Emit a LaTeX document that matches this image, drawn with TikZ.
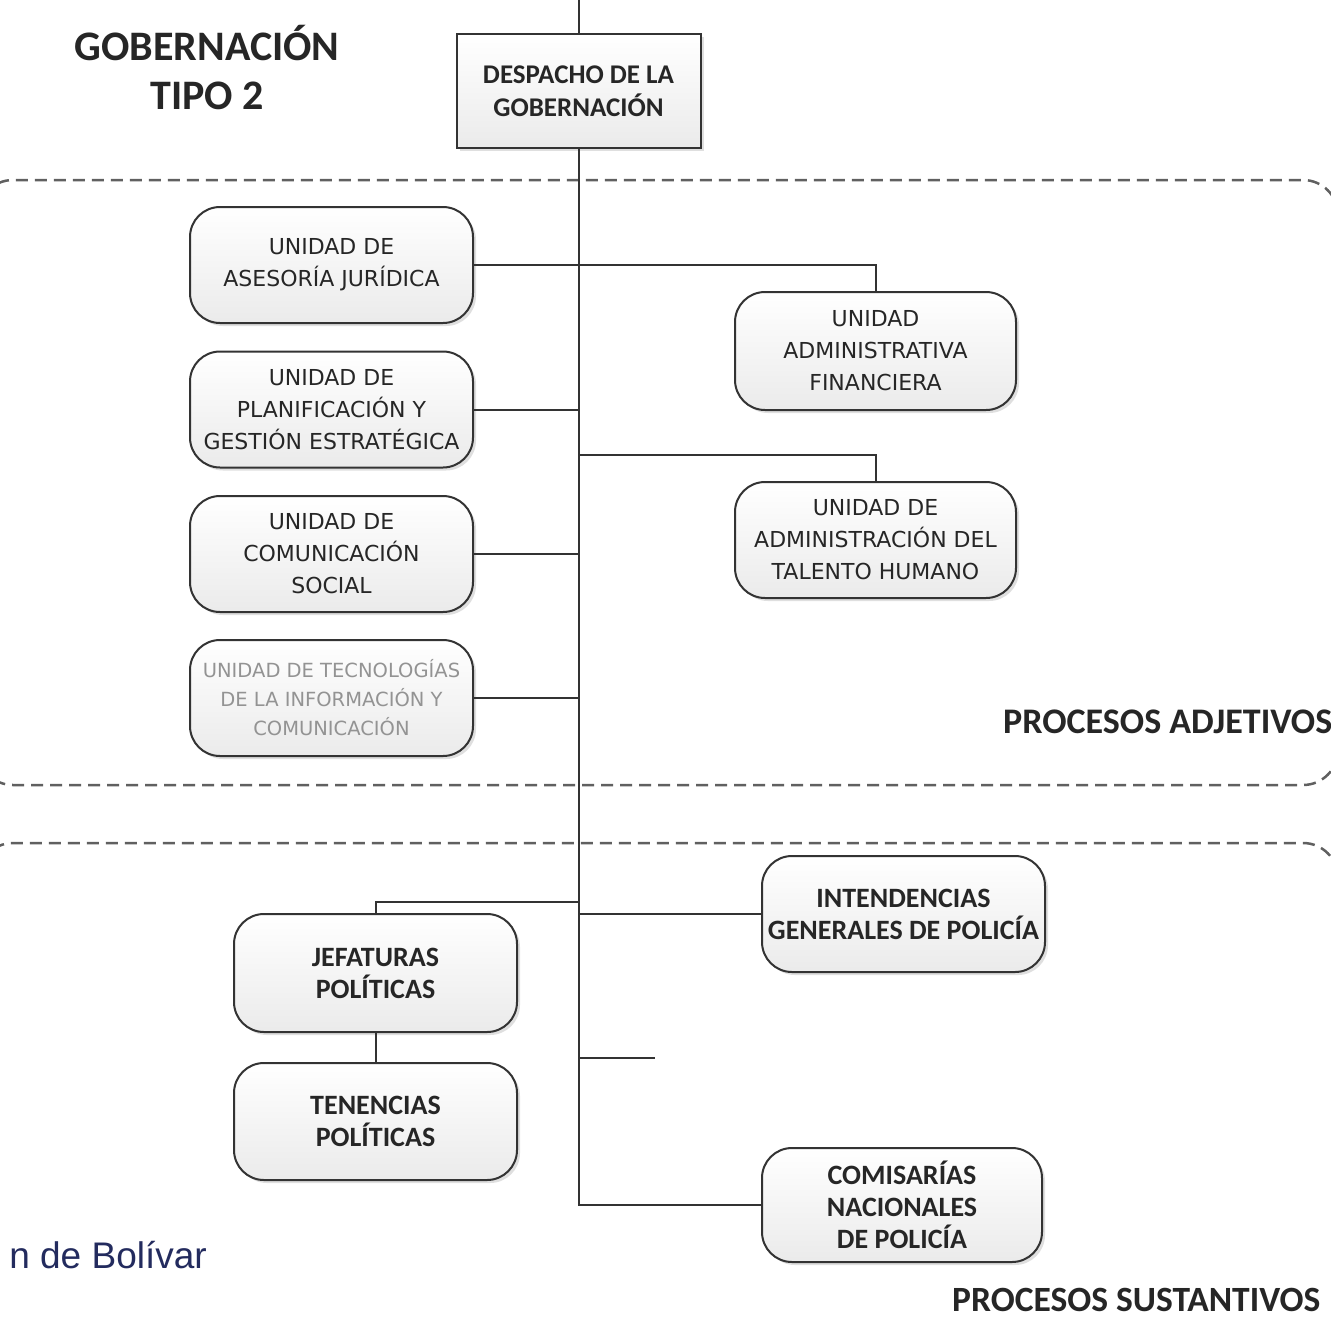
\documentclass[tikz,border=0pt]{standalone}
\usepackage{fontspec}
\setmainfont{Carlito}
\newfontfamily\dv{DejaVu Sans}
\newfontfamily\arialf{Liberation Sans}
\usetikzlibrary{shadows}
\definecolor{ink}{HTML}{262626}
\definecolor{lineclr}{HTML}{333333}
\definecolor{navy}{HTML}{232B5E}
\tikzset{
  boxbase/.style={draw=lineclr, line width=2pt, shading=axis, top color=white, bottom color=gray!16,
    drop shadow={shadow xshift=3pt, shadow yshift=-3pt, opacity=0.25, fill=gray},
    align=center, inner sep=0pt, text=ink},
  ubox/.style={boxbase, rounded corners=30pt, minimum width=283pt, minimum height=116pt,
    font=\dv\fontsize{22}{32}\selectfont},
  bbox/.style={boxbase, rounded corners=30pt, minimum width=283pt, minimum height=116pt,
    font=\bfseries\fontsize{28}{32}\selectfont},
  conn/.style={draw=lineclr, line width=2pt},
  dashregion/.style={draw=gray!75!black, line width=2.5pt, dash pattern=on 12pt off 7pt, rounded corners=35pt},
}
\begin{document}
\begin{tikzpicture}[x=1pt,y=-1pt]
\useasboundingbox (0,0) rectangle (1331,1318);
\fill[white] (0,0) rectangle (1331,1318);
\begin{scope}
\clip (0,0) rectangle (1331,1318);
\draw[dashregion] (-22,180) rectangle (1338,785);
\draw[dashregion] (-22,843) rectangle (1338,1360);
\end{scope}

% title
\node[font=\bfseries\fontsize{42}{49}\selectfont, text=ink, align=center] (title) at (207,68) {GOBERNACIÓN\\TIPO 2};

% top box
\node[boxbase, rounded corners=0pt, minimum width=244pt, minimum height=114pt,
  font=\bfseries\fontsize{27}{33}\selectfont] (desp) at (578.5,91) {DESPACHO DE LA\\GOBERNACIÓN};
\coordinate (top) at (578.5,0);

% left units
\node[ubox] (ases) at (331.5,265) {UNIDAD DE\\ASESORÍA JURÍDICA};
\node[ubox] (plan) at (331.5,409.5) {UNIDAD DE\\PLANIFICACIÓN Y\\GESTIÓN ESTRATÉGICA};
\node[ubox] (comu) at (331.5,554) {UNIDAD DE\\COMUNICACIÓN\\SOCIAL};
\node[ubox, text=gray!85, font=\dv\fontsize{19.5}{29}\selectfont] (tec) at (331.5,698) {UNIDAD DE TECNOLOGÍAS\\DE LA INFORMACIÓN Y\\COMUNICACIÓN};

% right units
\node[ubox, minimum width=281pt, minimum height=118pt] (fin) at (875.5,351) {UNIDAD\\ADMINISTRATIVA\\FINANCIERA};
\node[ubox, minimum width=281pt] (tal) at (875.5,540) {UNIDAD DE\\ADMINISTRACIÓN DEL\\TALENTO HUMANO};

% sustantive units
\node[bbox, minimum height=118pt] (jef) at (375.5,973) {JEFATURAS\\POLÍTICAS};
\node[bbox, minimum height=117pt] (ten) at (375.5,1121.5) {TENENCIAS\\POLÍTICAS};
\node[bbox] (int) at (903.5,914) {INTENDENCIAS\\GENERALES DE POLICÍA};
\node[bbox, minimum width=280pt, minimum height=114pt] (comi) at (902,1205) {COMISARÍAS\\NACIONALES\\DE POLICÍA};

% labels
\node[font=\bfseries\fontsize{36}{38}\selectfont, text=ink, anchor=west, inner sep=0pt] (adj) at (1003,722) {PROCESOS ADJETIVOS};
\node[font=\bfseries\fontsize{35.5}{38}\selectfont, text=ink, anchor=west, inner sep=0pt] (sus) at (952,1300) {PROCESOS SUSTANTIVOS};
\node[font=\arialf\fontsize{37}{40}\selectfont, text=navy, anchor=base east, inner sep=0pt] (src) at (207,1268) {n de Bolívar};

% connectors
\coordinate (b2) at (578.5,455);
\coordinate (b3) at (578.5,902);
\coordinate (b4) at (578.5,1058);
\coordinate (s4) at (655,1058);
\draw[conn] (top) -- (desp.north);
\draw[conn] (desp.south) |- (comi.west);
\draw[conn] (ases.east) -| (fin.north);
\draw[conn] (b2) -| (tal.north);
\draw[conn] (plan.east) -- (plan.east -| desp.south);
\draw[conn] (comu.east) -- (comu.east -| desp.south);
\draw[conn] (tec.east) -- (tec.east -| desp.south);
\draw[conn] (b3) -| (jef.north);
\draw[conn] (jef.south) -- (ten.north);
\draw[conn] (int.west) -- (int.west -| desp.south);
\draw[conn] (b4) -- (s4);
\end{tikzpicture}
\end{document}
